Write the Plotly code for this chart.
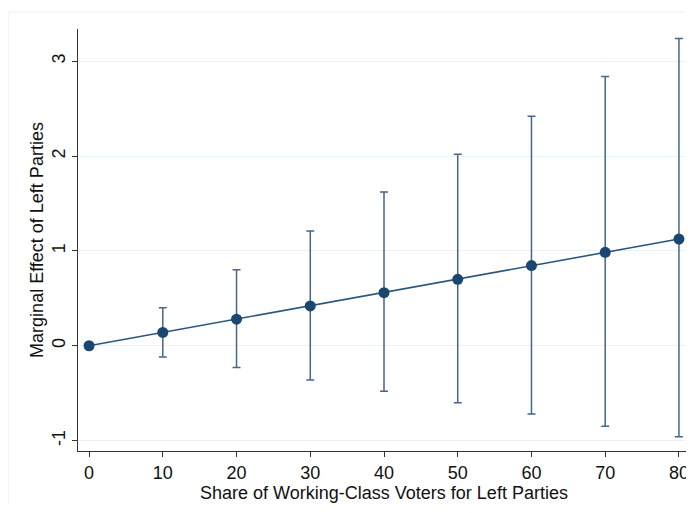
import plotly.graph_objects as go

share = [0, 10, 20, 30, 40, 50, 60, 70, 80]
effect = [0.0, 0.14, 0.28, 0.42, 0.56, 0.70, 0.845, 0.985, 1.125]
upper = [0.0, 0.40, 0.80, 1.21, 1.62, 2.02, 2.42, 2.84, 3.24]
lower = [0.0, -0.12, -0.23, -0.36, -0.48, -0.60, -0.72, -0.85, -0.96]

err_plus = [u - e for u, e in zip(upper, effect)]
err_minus = [e - l for e, l in zip(effect, lower)]

navy = "#1a476f"
font = "Liberation Sans, Arial, sans-serif"

fig = go.Figure()
fig.add_trace(go.Scatter(
    x=share, y=effect, mode="lines+markers",
    line=dict(color="#2b577f", width=1.6),
    marker=dict(color=navy, size=11),
    error_y=dict(type="data", symmetric=False, array=err_plus, arrayminus=err_minus,
                 color="#44678a", thickness=1.5, width=4),
    cliponaxis=False,
    showlegend=False,
))

# faint outer frame (div is offset by the page's 8px body margin)
fig.add_shape(type="rect", xref="paper", yref="paper",
              x0=-0.114, x1=1.03, y0=-0.14, y1=1.04,
              line=dict(color="#eef3f3", width=1), layer="below")

fig.update_layout(
    width=686, height=497,
    margin=dict(l=70, r=4, t=21, b=54),
    paper_bgcolor="white", plot_bgcolor="white",
    font=dict(family=font, size=18, color="#111111"),
)
fig.update_xaxes(
    range=[-1.5, 81.5], tickvals=share, ticktext=[str(v) for v in share],
    automargin=False,
    showgrid=False, zeroline=False, showline=True, linecolor="#333333", linewidth=1,
    ticks="outside", ticklen=5, tickcolor="#333333",
    title=dict(text="Share of Working-Class Voters for Left Parties", standoff=0,
               font=dict(size=18)),
    tickfont=dict(size=18),
)
fig.update_yaxes(
    range=[-1.11, 3.34], tickvals=[-1, 0, 1, 2, 3], ticktext=["-1", "0", "1", "2", "3"],
    tickangle=-90, automargin=False,
    showgrid=True, gridcolor="#eaf2f3", gridwidth=1, zeroline=False,
    showline=True, linecolor="#333333", linewidth=1,
    ticks="outside", ticklen=5, tickcolor="#333333",
    title=dict(text="Marginal Effect of Left Parties", standoff=0, font=dict(size=18)),
    tickfont=dict(size=18),
)

fig.write_html("out.html")
